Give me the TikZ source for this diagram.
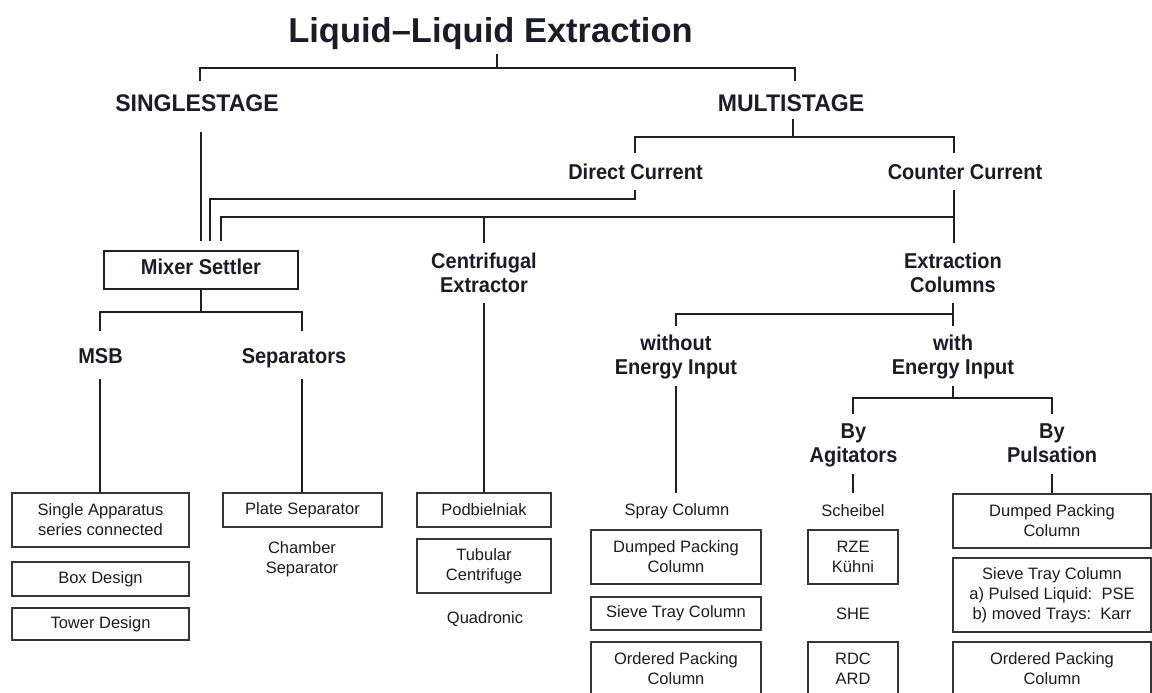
\documentclass[tikz,border=0pt]{standalone}
\usepackage{fontspec}
\setmainfont{Liberation Sans}
\newfontfamily\hdfont[FakeStretch=0.93]{Liberation Sans}
\newfontfamily\bgfont[FakeStretch=0.96]{Liberation Sans}
\definecolor{ln}{HTML}{231F20}
\definecolor{tx}{HTML}{1C1C28}
\begin{document}
\begin{tikzpicture}[x=1pt,y=-1pt,
  cn/.style={draw=ln, line width=2.3pt},
  thinln/.style={draw=ln, line width=1.5pt},
  hd/.style={inner sep=0pt, outer sep=0pt, align=center, text=tx,
    font=\hdfont\bfseries\fontsize{21.5}{24}\selectfont,
    execute at begin node=\strut, execute at end node=\strut},
  big/.style={hd, font=\bgfont\bfseries\fontsize{24}{28}\selectfont},
  ttl/.style={hd, font=\bfseries\fontsize{34.5}{38}\selectfont},
  lb/.style={inner sep=0pt, align=center, text=tx, font=\fontsize{16.5}{20}\selectfont},
  bx/.style={lb, draw=ln!90, line width=1.3pt},
]
\fill[white] (0,0) rectangle (1152,693);
\useasboundingbox (0,0) rectangle (1152,693);

% ---------- headings ----------
\node[ttl, anchor=base] (title) at (490.5,43) {Liquid–Liquid Extraction};
\node[big, anchor=base] (single) at (197,111) {SINGLESTAGE};
\node[big, anchor=base] (multi) at (791,111) {MULTISTAGE};
\node[hd, anchor=base] (dc) at (635.5,179) {Direct Current};
\node[hd, anchor=base] (cc) at (965,179) {Counter Current};
\node[hd, draw=ln, line width=2.4pt, minimum width=194pt, minimum height=38pt] (ms) at (201,270) {Mixer Settler};
\node[hd] (cent) at (484,276.2) {Centrifugal\\Extractor};
\node[hd] (ext) at (953,276.2) {Extraction\\Columns};
\node[hd, anchor=base] (msb) at (100.5,363) {MSB};
\node[hd, anchor=base] (sep) at (294,363) {Separators};
\node[hd] (wo) at (676,358.2) {without\\Energy Input};
\node[hd] (wi) at (953,358.2) {with\\Energy Input};
\node[hd] (ag) at (853.5,447.2) {By\\Agitators};
\node[hd] (pu) at (1052,447.2) {By\\Pulsation};

% ---------- leaves ----------
\node[bx, minimum width=177pt, minimum height=54pt] (sa) at (100.5,520) {Single Apparatus\\series connected};
\node[bx, minimum width=177pt, minimum height=34pt] (bd) at (100.5,579) {Box Design};
\node[bx, minimum width=177pt, minimum height=32pt] (td) at (100.5,624) {Tower Design};
\node[bx, minimum width=159pt, minimum height=34pt] (ps) at (302.5,510) {Plate Separator};
\node[lb] (cs) at (302,559) {Chamber\\Separator};
\node[bx, minimum width=134pt, minimum height=34pt] (pod) at (484,510) {Podbielniak};
\node[bx, minimum width=134pt, minimum height=54pt] (tub) at (484,566) {Tubular\\Centrifuge};
\node[lb] (quad) at (485,619) {Quadronic};
\node[lb] (spray) at (677,511) {Spray Column};
\node[bx, minimum width=170pt, minimum height=54pt] (dp1) at (676,557) {Dumped Packing\\Column};
\node[bx, minimum width=170pt, minimum height=33pt] (st1) at (676,613.5) {Sieve Tray Column};
\node[bx, minimum width=170pt, minimum height=54pt] (op1) at (676,669) {Ordered Packing\\Column};
\node[lb] (sch) at (853,511) {Scheibel};
\node[bx, minimum width=90pt, minimum height=54pt] (rze) at (853,557) {RZE\\Kühni};
\node[lb] (she) at (853,614) {SHE};
\node[bx, minimum width=90pt, minimum height=54pt] (rdc) at (853,669) {RDC\\ARD};
\node[bx, minimum width=198pt, minimum height=54pt] (dp2) at (1052,521) {Dumped Packing\\Column};
\node[bx, minimum width=198pt, minimum height=74pt] (st2) at (1052,595) {Sieve Tray Column\\a) Pulsed Liquid:\ \ PSE\\b) moved Trays:\ \ Karr};
\node[bx, minimum width=198pt, minimum height=54pt] (op2) at (1052,669) {Ordered Packing\\Column};

% ---------- junctions ----------
\coordinate (jt) at (497,68);  \coordinate (jtl) at (200,68); \coordinate (jtr) at (795,68);
\coordinate (jm) at (793,137); \coordinate (jml) at (635,137); \coordinate (jmr) at (954,137);
\coordinate (jd) at (210,199);
\coordinate (jc) at (954,217); \coordinate (jcl) at (221,217);
\coordinate (jms) at (201,312); \coordinate (jmsl) at (100,312); \coordinate (jmsr) at (302,312);
\coordinate (je) at (953,314); \coordinate (jel) at (676,314);
\coordinate (jw) at (953,398); \coordinate (jwl) at (853,398); \coordinate (jwr) at (1052,398);

% ---------- connectors ----------
\draw[cn] (title.south -| jt) -- (jt);
\draw[cn] ([yshift=10pt]single.north -| jtl) -- (jtl) -- (jtr) -- ([yshift=10pt]multi.north -| jtr);
\draw[cn] (multi.south -| jm) -- (jm);
\draw[cn] ([yshift=9pt]dc.north -| jml) -- (jml) -- (jmr) -- ([yshift=9pt]cc.north -| jmr);
\draw[cn] ([yshift=-12.6pt]single.south -| ms.north) -- ([yshift=10pt]ms.north);
\draw[cn] ([yshift=-4pt]dc.south -| jml) |- (jd) -- ([yshift=10pt]ms.north -| jd);
\draw[cn] ([yshift=-4pt]cc.south -| jc) -- ([yshift=10pt]ext.north -| jc);
\draw[cn] (jc) -- (jcl) -- ([yshift=10pt]ms.north -| jcl);
\draw[cn] (cent.north |- jc) -- ([yshift=10pt]cent.north);
\draw[cn] (ms.south) -- (jms);
\draw[cn] ([yshift=15pt]msb.north -| jmsl) -- (jmsl) -- (jmsr) -- ([yshift=15pt]sep.north -| jmsr);
\draw[cn] ([yshift=-9pt]msb.south -| jmsl) -- (sa.north -| jmsl);
\draw[cn] ([yshift=-9pt]sep.south -| jmsr) -- (ps.north -| jmsr);
\draw[cn] ([yshift=-3pt]cent.south) -- (pod.north);
\draw[cn] ([yshift=-3pt]ext.south) -- (je);
\draw[cn] ([yshift=9pt]wo.north -| jel) -- (jel) -- (je) -- ([yshift=9pt]wi.north -| je);
\draw[cn] ([yshift=-4pt]wo.south -| jel) -- ([yshift=10pt]spray.north -| jel);
\draw[cn] ([yshift=-4pt]wi.south) -- (jw);
\draw[cn] ([yshift=10pt]ag.north -| jwl) -- (jwl) -- (jwr) -- ([yshift=10pt]pu.north -| jwr);
\draw[thinln] ([yshift=-4pt]ag.south -| jwl) -- ([yshift=12pt]sch.north -| jwl);
\draw[cn] ([yshift=-4pt]pu.south -| jwr) -- (dp2.north -| jwr);
\end{tikzpicture}
\end{document}
